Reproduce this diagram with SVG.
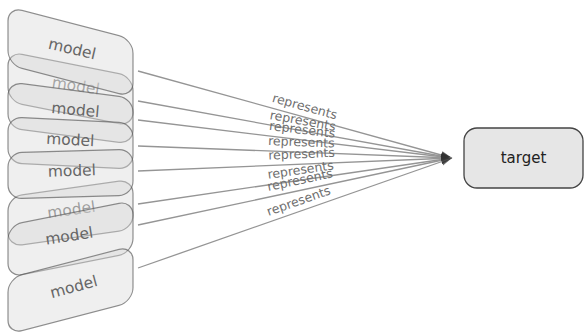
<svg xmlns="http://www.w3.org/2000/svg" width="585" height="335" viewBox="0 0 585 335">
<defs>
<marker id="ah" markerUnits="userSpaceOnUse" markerWidth="12" markerHeight="9" refX="11" refY="4" orient="auto">
<path d="M0,0 L11,4 L0,8 z" fill="#333" fill-opacity="0.75"/>
</marker>
<style>
.m rect{fill:#d8d8d8;fill-opacity:0.4;stroke:#555;stroke-opacity:0.65;stroke-width:1.2}
.m text{font-family:"DejaVu Sans",sans-serif;font-size:15.5px;text-anchor:middle;fill:#666}
.e line{stroke:#959595;stroke-width:1.3;marker-end:url(#ah)}
.r{font-family:"DejaVu Sans",sans-serif;font-size:12.5px;text-anchor:middle;fill:#6e6e6e}
</style>
</defs>
<rect width="585" height="335" fill="#fff"/>
<g id="model2" class="m"><g transform="matrix(1,0.2,0,1,0,-14.1)"><rect x="8" y="64" width="125" height="50" rx="14"/></g><text transform="translate(75,91) rotate(9)" fill-opacity="0.55">model</text></g>
<g id="model6" class="m"><g transform="matrix(1,-0.14,0,1,0,9.87)"><rect x="8" y="188" width="125" height="50" rx="14"/></g><text transform="translate(72,215) rotate(-8)" fill-opacity="0.6">model</text></g>
<g id="model1" class="m"><g transform="matrix(1,0.26,0,1,0,-18.33)"><rect x="8" y="23" width="125" height="58" rx="14"/></g><text transform="translate(71,54) rotate(13)">model</text></g>
<g id="model3" class="m"><g transform="matrix(1,0.13,0,1,0,-9.17)"><rect x="8" y="90" width="125" height="46" rx="14"/></g><text transform="translate(75,115) rotate(5)">model</text></g>
<g id="model4" class="m"><g transform="matrix(1,0.05,0,1,0,-3.53)"><rect x="8" y="120" width="125" height="46" rx="14"/></g><text transform="translate(70,145) rotate(3)">model</text></g>
<g id="model5" class="m"><g transform="matrix(1,-0.03,0,1,0,2.12)"><rect x="8" y="151" width="125" height="46" rx="14"/></g><text transform="translate(72,176) rotate(-2)">model</text></g>
<g id="model7" class="m"><g transform="matrix(1,-0.2,0,1,0,14.1)"><rect x="8" y="213" width="125" height="52" rx="14"/></g><text transform="translate(70,241) rotate(-9)">model</text></g>
<g id="model8" class="m"><g transform="matrix(1,-0.26,0,1,0,18.33)"><rect x="8" y="262" width="125" height="56" rx="14"/></g><text transform="translate(75,292) rotate(-15)">model</text></g>
<g id="target"><rect x="464" y="128" width="119" height="60" rx="13" fill="#e6e6e6" stroke="#444" stroke-width="1.3"/><text x="523.5" y="163" font-family="DejaVu Sans,sans-serif" font-size="15" text-anchor="middle" fill="#222">target</text></g>
<g id="edges" class="e">
<line x1="138" y1="71" x2="452" y2="158"/>
<line x1="138" y1="101" x2="452" y2="158"/>
<line x1="138" y1="120" x2="452" y2="158"/>
<line x1="138" y1="146" x2="452" y2="158"/>
<line x1="138" y1="171" x2="452" y2="158"/>
<line x1="138" y1="204" x2="452" y2="158"/>
<line x1="138" y1="225" x2="452" y2="158"/>
<line x1="138" y1="268" x2="452" y2="158"/>
<text class="r" transform="translate(302,116.4) rotate(15.5)" y="-6">represents</text>
<text class="r" transform="translate(301,130.8) rotate(10.3)" y="-6">represents</text>
<text class="r" transform="translate(301,139.8) rotate(6.9)" y="-6">represents</text>
<text class="r" transform="translate(301,152.3) rotate(2.2)" y="-6">represents</text>
<text class="r" transform="translate(302,164.2) rotate(-2.4)" y="-6">represents</text>
<text class="r" transform="translate(302,180) rotate(-8.3)" y="-6">represents</text>
<text class="r" transform="translate(302,190) rotate(-12)" y="-6">represents</text>
<text class="r" transform="translate(302,210.6) rotate(-19.3)" y="-6">represents</text>
</g>
</svg>
